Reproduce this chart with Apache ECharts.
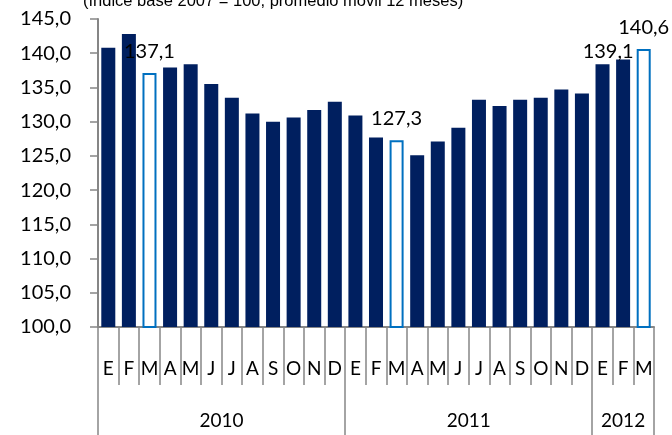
<!DOCTYPE html>
<html>
<head>
<meta charset="utf-8">
<script src="https://cdn.jsdelivr.net/npm/echarts@6/dist/echarts.min.js"></script>
<style>html,body{margin:0;padding:0;background:#fff}#c{width:672px;height:435px}</style>
</head>
<body>
<div id="c"></div>
<script>
var months = ['E','F','M','A','M','J','J','A','S','O','N','D','E','F','M','A','M','J','J','A','S','O','N','D','E','F','M'];
var years  = ['2010','2010','2010','2010','2010','2010','2010','2010','2010','2010','2010','2010',
              '2011','2011','2011','2011','2011','2011','2011','2011','2011','2011','2011','2011',
              '2012','2012','2012'];
var values = [140.8,142.8,137.1,137.9,138.4,135.5,133.5,131.2,130.0,130.6,131.7,132.9,
              130.9,127.7,127.3,125.1,127.1,129.1,133.2,132.3,133.2,133.5,134.7,134.1,
              138.4,139.1,140.6];
var hollowIdx = [2,14,26];
var labelIdx = [2,14,25,26];
var yTicks = [100,105,110,115,120,125,130,135,140,145];
var titleText = '(índice base 2007 = 100, promedio móvil 12 meses)';

var FONT = 'Lato';
var fmt = function(v){ return Number(v).toFixed(1).replace('.', ','); };

// year groups
var groups = [];
years.forEach(function(y,i){
  if (!groups.length || groups[groups.length-1].name !== y) groups.push({name:y,start:i,end:i+1});
  else groups[groups.length-1].end = i+1;
});
var bounds = [0].concat(groups.map(function(g){return g.end;}));
var centers = groups.map(function(g){return (g.start+g.end)/2;});

var data = values.map(function(v,i){
  var item = {value: v};
  if (hollowIdx.indexOf(i) >= 0) {
    item.itemStyle = {color:'#ffffff', borderColor:'#0070C0', borderWidth:2};
  }
  if (labelIdx.indexOf(i) >= 0) {
    item.label = {show:true, position:'top', distance:12, formatter:function(p){return fmt(p.value);}};
    if (i === 25) item.label.offset = [-15, 14];
  }
  return item;
});

var chart = echarts.init(document.getElementById('c'));
chart.setOption({
  animation:false,
  title:{text:titleText, left:78, top:-12, textStyle:{fontFamily:'Liberation Sans', fontSize:16.5, fontWeight:'normal', color:'#000'}},
  grid:{left:98, right:18, top:19, bottom:108},
  xAxis:[{
    type:'category', data:months, position:'bottom',
    axisLine:{show:true, lineStyle:{color:'#868686', width:2}},
    axisTick:{show:true, interval:0, length:58, lineStyle:{color:'#868686', width:1.5}},
    axisLabel:{interval:0, margin:32, fontFamily:FONT, fontSize:19, color:'#000'}
  },{
    type:'value', min:0, max:months.length, position:'bottom',
    axisLine:{show:false}, splitLine:{show:false},
    axisTick:{show:true, customValues:bounds, length:110, lineStyle:{color:'#868686', width:1.5}},
    axisLabel:{customValues:centers, margin:84, fontFamily:FONT, fontSize:19, color:'#000',
      formatter:function(v){ var k = centers.indexOf(v); return k>=0 ? groups[k].name : ''; }}
  }],
  yAxis:{
    type:'value', min:yTicks[0], max:yTicks[yTicks.length-1], interval:5,
    axisLine:{show:true, lineStyle:{color:'#868686', width:2}},
    axisTick:{show:true, length:8, lineStyle:{color:'#868686', width:1.5}},
    splitLine:{show:false},
    axisLabel:{margin:27, fontFamily:FONT, fontSize:20, color:'#000', formatter:fmt}
  },
  series:[{
    type:'bar', xAxisIndex:0, data:data, barWidth:'68%',
    itemStyle:{color:'#001F5F'},
    label:{fontFamily:FONT, fontSize:20, color:'#000'}
  }]
});
</script>
</body>
</html>
